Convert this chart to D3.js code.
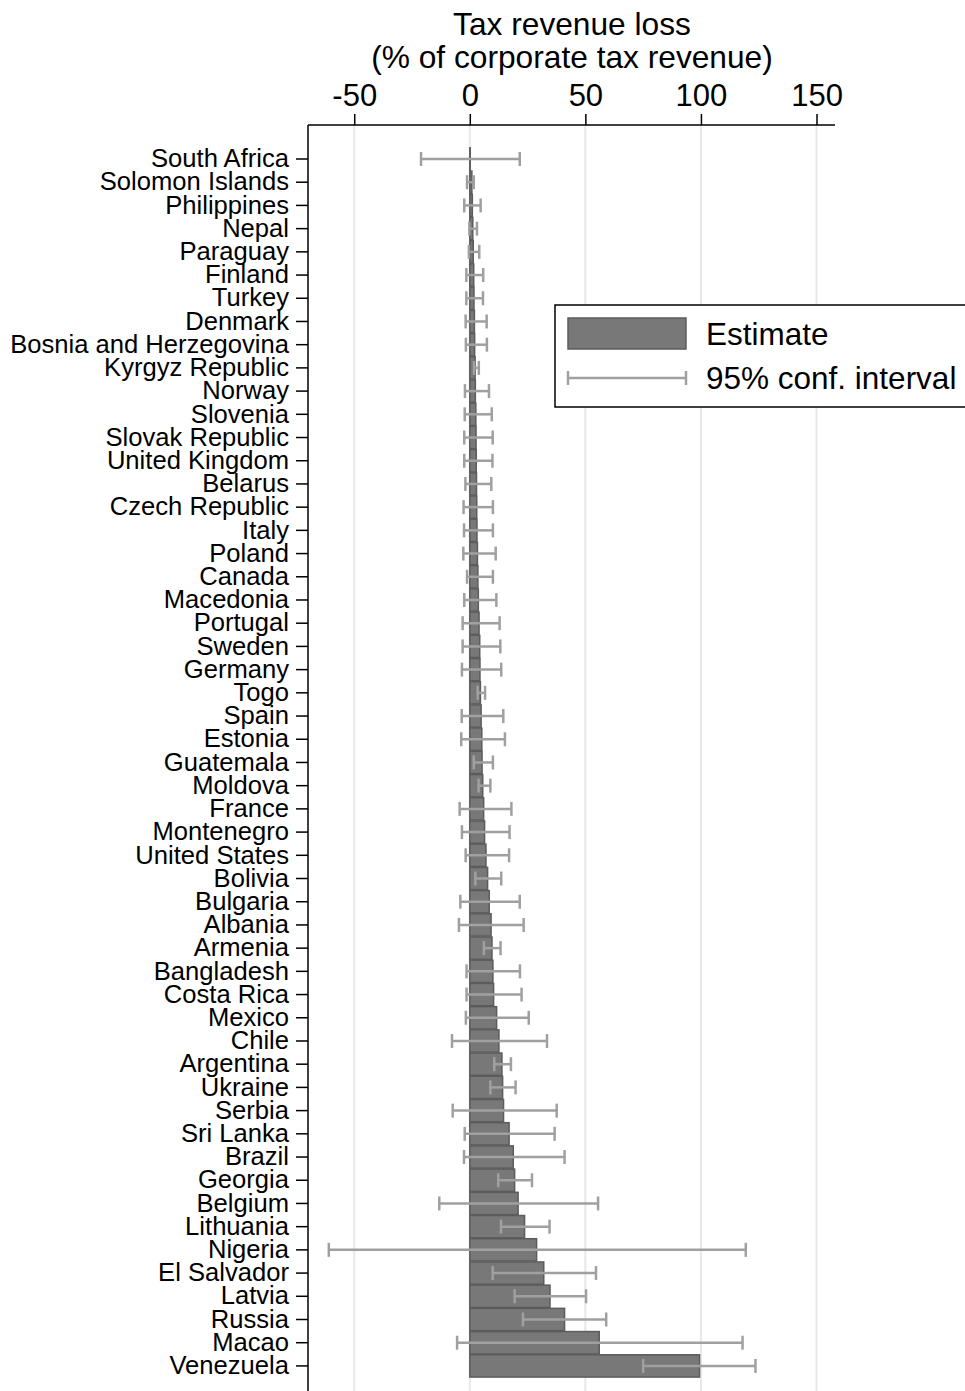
<!DOCTYPE html>
<html>
<head>
<meta charset="utf-8">
<script src="https://cdn.jsdelivr.net/npm/d3@7"></script>
<style>
  html, body { margin: 0; padding: 0; background: #fff; }
  svg { display: block; font-family: "Liberation Sans", Arial, sans-serif; }
</style>
</head>
<body>
<svg id="chart" width="965" height="1391"></svg>
<script>
// Countries, top to bottom
const countries = [
  "South Africa", "Solomon Islands", "Philippines", "Nepal", "Paraguay", "Finland",
  "Turkey", "Denmark", "Bosnia and Herzegovina", "Kyrgyz Republic", "Norway",
  "Slovenia", "Slovak Republic", "United Kingdom", "Belarus", "Czech Republic",
  "Italy", "Poland", "Canada", "Macedonia", "Portugal", "Sweden", "Germany", "Togo",
  "Spain", "Estonia", "Guatemala", "Moldova", "France", "Montenegro", "United States",
  "Bolivia", "Bulgaria", "Albania", "Armenia", "Bangladesh", "Costa Rica", "Mexico",
  "Chile", "Argentina", "Ukraine", "Serbia", "Sri Lanka", "Brazil", "Georgia",
  "Belgium", "Lithuania", "Nigeria", "El Salvador", "Latvia", "Russia", "Macao",
  "Venezuela"
];

// Point estimates (% of corporate tax revenue)
const estimate = [
  0.2, 0.9, 1.1, 1.3, 1.5, 1.7,
  1.8, 2.0, 2.1, 2.3, 2.4,
  2.6, 2.7, 2.8, 2.9, 3.0,
  3.1, 3.3, 3.5, 3.7, 4.0, 4.3, 4.4, 4.6,
  4.9, 5.2, 5.3, 5.6, 6.0, 6.4, 7.0,
  7.7, 8.4, 9.2, 9.6, 10.0, 10.3, 11.6,
  12.6, 13.9, 14.2, 14.6, 17.0, 18.8, 19.4,
  20.9, 23.7, 28.9, 32.0, 34.7, 41.0, 56.0,
  99.4
];

// 95% confidence interval bounds
const ciLow = [
  -21.1, -1.2, -2.4, -0.2, -0.4, -1.5,
  -1.5, -1.8, -1.7, 1.8, -2.1,
  -2.2, -2.4, -2.4, -1.9, -2.7,
  -2.5, -2.8, -1.2, -2.4, -3.1, -3.1, -3.4, 3.4,
  -3.5, -3.7, 1.7, 3.8, -4.4, -3.4, -1.8,
  2.4, -4.1, -4.7, 6.1, -1.4, -1.4, -1.7,
  -7.7, 10.6, 8.9, -7.4, -2.2, -2.5, 12.3,
  -13.2, 13.5, -61.0, 9.9, 19.4, 23.0, -5.5,
  75.0
];
const ciHigh = [
  21.6, 1.7, 4.7, 3.1, 4.1, 5.8,
  5.7, 7.3, 7.4, 3.9, 8.3,
  9.5, 9.9, 9.8, 9.3, 10.0,
  10.0, 11.2, 10.0, 11.5, 12.9, 13.2, 13.6, 6.6,
  14.5, 15.2, 10.0, 8.9, 18.0, 17.2, 17.0,
  13.6, 21.6, 23.3, 13.3, 21.7, 22.4, 25.5,
  33.4, 17.8, 19.8, 37.6, 36.7, 41.0, 26.9,
  55.5, 34.5, 119.4, 54.6, 50.3, 59.0, 118.0,
  123.6
];

// Axis ticks
const xTicks = [-50, 0, 50, 100, 150];
const titleLines = ["Tax revenue loss", "(% of corporate tax revenue)"];
const legendLabels = ["Estimate", "95% conf. interval"];

const rows = countries.map((c, i) => ({
  country: c, est: estimate[i], lo: ciLow[i], hi: ciHigh[i]
}));

const svg = d3.select("#chart");

const plotLeft = 308, plotRight = 835, plotTop = 125, plotBottom = 1391;

const x = d3.scaleLinear().domain([-70, 158]).range([plotLeft, plotRight]);

const step = 23.21;
const y = d3.scaleBand()
  .domain(countries)
  .range([159 - step / 2, 159 - step / 2 + step * countries.length])
  .paddingInner(0.04)
  .paddingOuter(0.02);

const barFill = "#787878", barStroke = "#5c5c5c", ciColor = "#a0a0a0";

// Vertical grid lines
svg.append("g")
  .selectAll("line")
  .data(xTicks)
  .join("line")
  .attr("x1", d => x(d)).attr("x2", d => x(d))
  .attr("y1", plotTop).attr("y2", plotBottom)
  .attr("stroke", "#e8e8e8")
  .attr("stroke-width", 2);

// Bars
svg.append("g")
  .selectAll("rect")
  .data(rows)
  .join("rect")
  .attr("x", d => Math.min(x(0), x(d.est)))
  .attr("width", d => Math.abs(x(d.est) - x(0)))
  .attr("y", d => y(d.country))
  .attr("height", y.bandwidth())
  .attr("fill", barFill)
  .attr("stroke", barStroke)
  .attr("stroke-width", 1.5);

// Confidence intervals
const ci = svg.append("g")
  .attr("stroke", ciColor)
  .attr("stroke-width", 2.5)
  .selectAll("g")
  .data(rows)
  .join("g")
  .attr("transform", d => `translate(0,${y(d.country) + y.bandwidth() / 2})`);
const cap = 7;
ci.append("line")
  .attr("x1", d => x(d.lo)).attr("x2", d => x(d.hi))
  .attr("y1", 0).attr("y2", 0);
ci.append("line")
  .attr("x1", d => x(d.lo)).attr("x2", d => x(d.lo))
  .attr("y1", -cap).attr("y2", cap);
ci.append("line")
  .attr("x1", d => x(d.hi)).attr("x2", d => x(d.hi))
  .attr("y1", -cap).attr("y2", cap);

// Top axis
const xAxis = d3.axisTop(x).tickValues(xTicks).tickSize(11).tickPadding(8)
  .tickFormat(d3.format("d"));
const gx = svg.append("g")
  .attr("transform", `translate(0,${plotTop})`)
  .call(xAxis);
gx.select(".domain").remove();
gx.selectAll(".tick line").attr("stroke", "#000").attr("stroke-width", 1.5);
gx.selectAll(".tick text")
  .attr("font-size", 31)
  .attr("font-family", "Liberation Sans, Arial, sans-serif")
  .attr("fill", "#000")
  .text(d => d < 0 ? "-" + Math.abs(d) : String(d));
svg.append("line")
  .attr("x1", plotLeft).attr("x2", plotRight)
  .attr("y1", plotTop).attr("y2", plotTop)
  .attr("stroke", "#000").attr("stroke-width", 1.5);

// Left axis
const yAxis = d3.axisLeft(y).tickSize(12).tickPadding(7);
const gy = svg.append("g")
  .attr("transform", `translate(${plotLeft},0)`)
  .call(yAxis);
gy.select(".domain").remove();
gy.selectAll(".tick line").attr("stroke", "#000").attr("stroke-width", 1.5);
gy.selectAll(".tick text")
  .attr("font-size", 25.6)
  .attr("font-family", "Liberation Sans, Arial, sans-serif")
  .attr("fill", "#000");
svg.append("line")
  .attr("x1", plotLeft).attr("x2", plotLeft)
  .attr("y1", plotTop).attr("y2", plotBottom)
  .attr("stroke", "#000").attr("stroke-width", 1.5);

// Axis title
svg.append("g")
  .selectAll("text")
  .data(titleLines)
  .join("text")
  .attr("x", 572)
  .attr("y", (d, i) => 24 + i * 33)
  .attr("text-anchor", "middle")
  .attr("dominant-baseline", "central")
  .attr("font-size", 31.7)
  .attr("fill", "#000")
  .text(d => d);

// Legend
const lg = svg.append("g");
lg.append("rect")
  .attr("x", 555).attr("y", 305)
  .attr("width", 430).attr("height", 102)
  .attr("fill", "#fff").attr("stroke", "#000").attr("stroke-width", 1.5);
lg.append("rect")
  .attr("x", 568).attr("y", 318).attr("width", 118).attr("height", 31)
  .attr("fill", barFill).attr("stroke", barStroke).attr("stroke-width", 1.5);
lg.append("line")
  .attr("x1", 568).attr("x2", 686).attr("y1", 378).attr("y2", 378)
  .attr("stroke", ciColor).attr("stroke-width", 2.5);
[568, 686].forEach(px => {
  lg.append("line")
    .attr("x1", px).attr("x2", px).attr("y1", 378 - cap).attr("y2", 378 + cap)
    .attr("stroke", ciColor).attr("stroke-width", 2.5);
});
lg.selectAll("text.lab")
  .data(legendLabels)
  .join("text")
  .attr("class", "lab")
  .attr("x", 706)
  .attr("y", (d, i) => 334 + i * 44)
  .attr("dominant-baseline", "central")
  .attr("font-size", 31.5)
  .attr("fill", "#000")
  .text(d => d);
</script>
</body>
</html>
